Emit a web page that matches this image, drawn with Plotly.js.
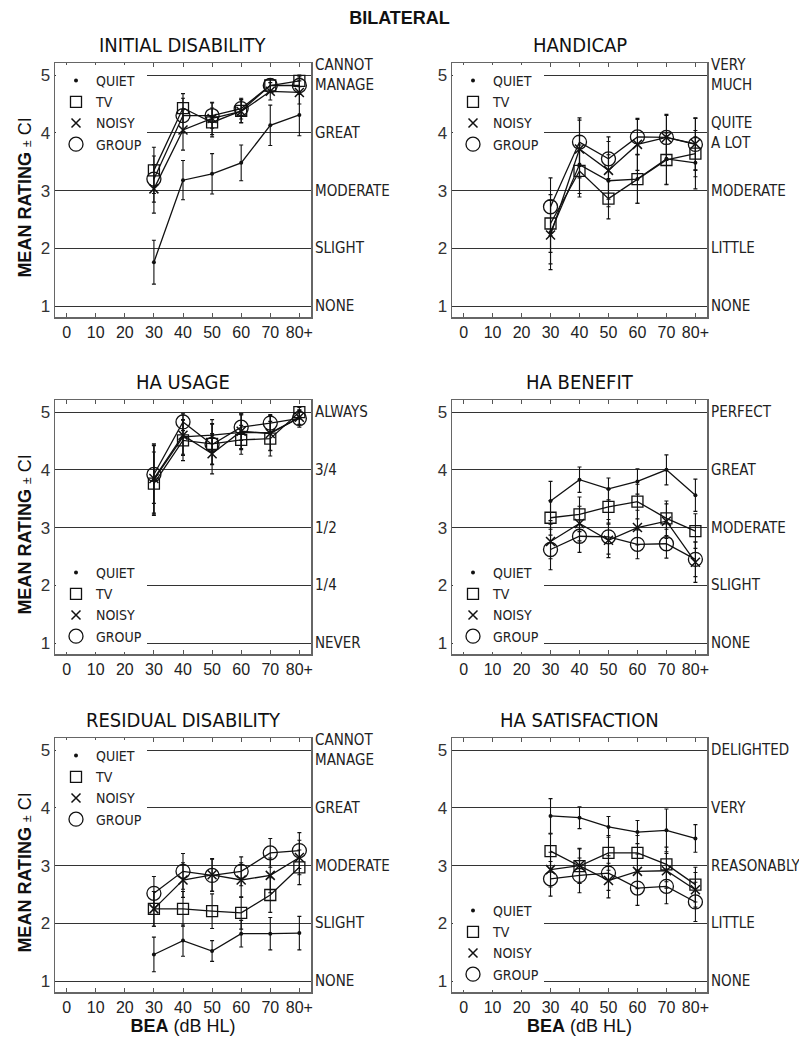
<!DOCTYPE html>
<html>
<head>
<meta charset="utf-8">
<script src="https://cdn.plot.ly/plotly-3.0.1.min.js"></script>
<style>
  body { margin: 0; background: #fff; }
  #chart { width: 799px; height: 1047px; }
</style>
</head>
<body>
<div id="chart"></div>
<script>
// BEA (dB HL) groups and axis labels
const xValues = [30, 40, 50, 60, 70, 80];
const xTickVals = [0, 10, 20, 30, 40, 50, 60, 70, 80];
const xTickText = ["0", "10", "20", "30", "40", "50", "60", "70", "80+"];
const seriesNames = ["QUIET", "TV", "NOISY", "GROUP"];
const ratingTicks = [1, 2, 3, 4, 5];

// INITIAL DISABILITY
const initialQuiet = [1.76, 3.18, 3.29, 3.48, 4.13, 4.31];
const initialQuietCI = [0.38, 0.34, 0.35, 0.31, 0.35, 0.36];
const initialTV = [3.35, 4.43, 4.18, 4.38, 4.82, 4.9];
const initialTVCI = [0.4, 0.25, 0.25, 0.2, 0.12, 0.1];
const initialNoisy = [3.03, 4.05, 4.25, 4.37, 4.72, 4.7];
const initialNoisyCI = [0.42, 0.35, 0.28, 0.2, 0.15, 0.2];
const initialGroup = [3.2, 4.3, 4.3, 4.42, 4.82, 4.82];
const initialGroupCI = [0.4, 0.3, 0.22, 0.18, 0.12, 0.15];
const initialLabels = ["NONE", "SLIGHT", "MODERATE", "GREAT", "CANNOT<br>MANAGE"];

// HANDICAP
const handicapQuiet = [2.28, 3.45, 3.17, 3.2, 3.55, 3.48];
const handicapQuietCI = [0.55, 0.5, 0.45, 0.42, 0.45, 0.45];
const handicapTV = [2.43, 3.34, 2.86, 3.2, 3.53, 3.64];
const handicapTVCI = [0.5, 0.45, 0.35, 0.42, 0.42, 0.4];
const handicapNoisy = [2.23, 3.72, 3.35, 3.8, 3.92, 3.81];
const handicapNoisyCI = [0.6, 0.5, 0.5, 0.45, 0.4, 0.45];
const handicapGroup = [2.72, 3.84, 3.55, 3.93, 3.92, 3.8];
const handicapGroupCI = [0.5, 0.42, 0.38, 0.3, 0.38, 0.45];
const handicapLabels = ["NONE", "LITTLE", "MODERATE", "QUITE<br>A LOT", "VERY<br>MUCH"];

// HA USAGE
const usageQuiet = [3.83, 4.57, 4.6, 4.65, 4.64, 4.9];
const usageQuietCI = [0.6, 0.3, 0.27, 0.3, 0.3, 0.12];
const usageTV = [3.76, 4.51, 4.45, 4.52, 4.54, 5.0];
const usageTVCI = [0.55, 0.35, 0.35, 0.25, 0.3, 0.08];
const usageNoisy = [3.85, 4.6, 4.28, 4.67, 4.63, 4.91];
const usageNoisyCI = [0.6, 0.35, 0.35, 0.3, 0.3, 0.12];
const usageGroup = [3.92, 4.83, 4.44, 4.74, 4.81, 4.89];
const usageGroupCI = [0.5, 0.15, 0.35, 0.23, 0.15, 0.15];
const usageLabels = ["NEVER", "1/4", "1/2", "3/4", "ALWAYS"];

// HA BENEFIT
const benefitQuiet = [3.46, 3.83, 3.67, 3.8, 4.0, 3.56];
const benefitQuietCI = [0.34, 0.22, 0.19, 0.22, 0.26, 0.28];
const benefitTV = [3.17, 3.23, 3.36, 3.45, 3.16, 2.94];
const benefitTVCI = [0.3, 0.3, 0.3, 0.3, 0.3, 0.3];
const benefitNoisy = [2.76, 3.07, 2.78, 3.0, 3.11, 2.4];
const benefitNoisyCI = [0.3, 0.3, 0.3, 0.3, 0.3, 0.35];
const benefitGroup = [2.62, 2.85, 2.84, 2.71, 2.72, 2.45];
const benefitGroupCI = [0.35, 0.28, 0.3, 0.25, 0.25, 0.3];
const benefitLabels = ["NONE", "SLIGHT", "MODERATE", "GREAT", "PERFECT"];

// RESIDUAL DISABILITY
const residualQuiet = [1.46, 1.7, 1.52, 1.82, 1.82, 1.83];
const residualQuietCI = [0.3, 0.27, 0.18, 0.23, 0.28, 0.29];
const residualTV = [2.25, 2.25, 2.21, 2.18, 2.49, 2.97];
const residualTVCI = [0.3, 0.3, 0.3, 0.28, 0.3, 0.3];
const residualNoisy = [2.25, 2.75, 2.84, 2.75, 2.83, 3.14];
const residualNoisyCI = [0.3, 0.3, 0.28, 0.3, 0.3, 0.3];
const residualGroup = [2.52, 2.9, 2.83, 2.9, 3.22, 3.26];
const residualGroupCI = [0.29, 0.31, 0.28, 0.25, 0.25, 0.31];
const residualLabels = ["NONE", "SLIGHT", "MODERATE", "GREAT", "CANNOT<br>MANAGE"];

// HA SATISFACTION
const satisfactionQuiet = [3.86, 3.83, 3.67, 3.58, 3.61, 3.47];
const satisfactionQuietCI = [0.3, 0.19, 0.18, 0.2, 0.37, 0.24];
const satisfactionTV = [3.25, 2.99, 3.22, 3.22, 3.02, 2.67];
const satisfactionTVCI = [0.3, 0.3, 0.3, 0.3, 0.3, 0.3];
const satisfactionNoisy = [2.93, 3.0, 2.74, 2.9, 2.91, 2.58];
const satisfactionNoisyCI = [0.3, 0.3, 0.3, 0.3, 0.3, 0.3];
const satisfactionGroup = [2.77, 2.83, 2.87, 2.61, 2.64, 2.37];
const satisfactionGroupCI = [0.3, 0.3, 0.3, 0.3, 0.3, 0.34];
const satisfactionLabels = ["NONE", "LITTLE", "REASONABLY", "VERY", "DELIGHTED"];

const FONT = '"Liberation Sans Narrow", "Arial Narrow", "DejaVu Sans Condensed", "Liberation Sans", sans-serif';
const SANS = '"Liberation Sans", Arial, sans-serif';
const INK = "#111";

const panels = [
  { title: "INITIAL DISABILITY", labels: initialLabels, legendAt: "top",
    values: [initialQuiet, initialTV, initialNoisy, initialGroup],
    ci: [initialQuietCI, initialTVCI, initialNoisyCI, initialGroupCI] },
  { title: "HANDICAP", labels: handicapLabels, legendAt: "top",
    values: [handicapQuiet, handicapTV, handicapNoisy, handicapGroup],
    ci: [handicapQuietCI, handicapTVCI, handicapNoisyCI, handicapGroupCI] },
  { title: "HA USAGE", labels: usageLabels, legendAt: "bottom",
    values: [usageQuiet, usageTV, usageNoisy, usageGroup],
    ci: [usageQuietCI, usageTVCI, usageNoisyCI, usageGroupCI] },
  { title: "HA BENEFIT", labels: benefitLabels, legendAt: "bottom",
    values: [benefitQuiet, benefitTV, benefitNoisy, benefitGroup],
    ci: [benefitQuietCI, benefitTVCI, benefitNoisyCI, benefitGroupCI] },
  { title: "RESIDUAL DISABILITY", labels: residualLabels, legendAt: "top",
    values: [residualQuiet, residualTV, residualNoisy, residualGroup],
    ci: [residualQuietCI, residualTVCI, residualNoisyCI, residualGroupCI] },
  { title: "HA SATISFACTION", labels: satisfactionLabels, legendAt: "bottom",
    values: [satisfactionQuiet, satisfactionTV, satisfactionNoisy, satisfactionGroup],
    ci: [satisfactionQuietCI, satisfactionTVCI, satisfactionNoisyCI, satisfactionGroupCI] },
];

const markerStyles = [
  { symbol: "circle", size: 4, color: INK },
  { symbol: "square-open", size: 11, color: INK, line: { color: INK, width: 1.3 } },
  { symbol: "x-thin-open", size: 9, color: INK, line: { color: INK, width: 1.5 } },
  { symbol: "circle-open", size: 14, color: INK, line: { color: INK, width: 1.3 } },
];

const W = 799, H = 1047;
const colX = [[55, 311], [452, 707]];
const rowY = [[63, 317], [400, 654], [738, 992]];

const traces = [];
const layout = {
  width: W,
  height: H,
  margin: { l: 0, r: 0, t: 0, b: 0 },
  paper_bgcolor: "#fff",
  plot_bgcolor: "#fff",
  font: { family: FONT, color: "#222" },
  showlegend: true,
  title: {
    text: "<b>BILATERAL</b>",
    font: { family: SANS, size: 18, color: INK },
    x: 0.5, xanchor: "center",
    y: 1 - 18 / H, yanchor: "middle", yref: "container",
  },
  annotations: [],
};

panels.forEach((p, i) => {
  const n = i + 1;
  const col = i % 2, row = Math.floor(i / 2);
  const xs = n === 1 ? "x" : "x" + n;
  const ys = n === 1 ? "y" : "y" + n;
  const legendId = n === 1 ? "legend" : "legend" + n;
  const xd = [colX[col][0] / W, colX[col][1] / W];
  const yd = [1 - rowY[row][1] / H, 1 - rowY[row][0] / H];

  // connecting lines with CI bars
  p.values.forEach((vals, s) => {
    traces.push({
      x: xValues, y: vals, xaxis: xs, yaxis: ys,
      type: "scatter", mode: "lines",
      line: { color: INK, width: 1.3 },
      error_y: { type: "data", array: p.ci[s], visible: true, color: INK, thickness: 1.1, width: 2 },
      showlegend: false, hoverinfo: "skip",
    });
  });
  // symbols (these carry the legend)
  p.values.forEach((vals, s) => {
    traces.push({
      x: xValues, y: vals, xaxis: xs, yaxis: ys,
      type: "scatter", mode: "markers",
      name: seriesNames[s],
      marker: markerStyles[s],
      legend: legendId,
    });
  });

  layout["xaxis" + (n === 1 ? "" : n)] = {
    domain: xd, anchor: ys, range: [-4, 84],
    tickvals: xTickVals, ticktext: xTickText,
    ticks: "inside", ticklen: 4, tickcolor: "#555", tickwidth: 1,
    showline: true, mirror: "ticks", linecolor: "#666", linewidth: 1.5,
    showgrid: false, zeroline: false, fixedrange: true,
    tickfont: { family: SANS, size: 16, color: "#222" },
    title: row === 2
      ? { text: "<b>BEA</b> (dB HL)", font: { family: SANS, size: 18, color: INK }, standoff: 4 }
      : { text: "" },
  };
  layout["yaxis" + (n === 1 ? "" : n)] = {
    domain: yd, anchor: xs, range: [0.81, 5.21],
    tickvals: ratingTicks, ticks: "",
    showgrid: true, gridcolor: "#333", gridwidth: 1,
    showline: true, mirror: true, linecolor: "#666", linewidth: 1.5,
    zeroline: false, fixedrange: true,
    tickfont: { family: SANS, size: 17, color: "#333" },
  };

  // right-hand verbal scale
  p.labels.forEach((lab, k) => {
    layout.annotations.push({
      text: lab, xref: xs + " domain", yref: ys,
      x: 1, y: ratingTicks[k], xanchor: "left", yanchor: "middle", xshift: 2,
      align: "left", showarrow: false,
      font: { family: FONT, size: 15, color: "#222" },
    });
  });

  if (col === 0) {
    layout.annotations.push({
      text: "<b>MEAN RATING</b> <span style='font-size:12px'>±</span> CI",
      xref: "paper", yref: ys + " domain", x: 25 / W, y: 0.47,
      xanchor: "center", yanchor: "middle", textangle: -90, showarrow: false,
      font: { family: SANS, size: 18, color: INK },
    });
  }

  const top = p.legendAt === "top";
  layout[legendId] = {
    x: (colX[col][0] + 1) / W, xanchor: "left",
    y: top ? 1 - (rowY[row][0] + 2) / H : 1 - (rowY[row][1] - 2) / H,
    yanchor: top ? "top" : "bottom",
    bgcolor: "#fff", borderwidth: 0,
    font: { family: FONT, size: 14, color: "#222" },
    itemwidth: 30, tracegroupgap: 0,
  };

  layout.annotations.push({
    text: p.title, xref: xs + " domain", yref: ys + " domain",
    x: 0.5, y: 1, xanchor: "center", yanchor: "bottom", yshift: 4,
    showarrow: false, font: { family: FONT, size: 20, color: INK },
  });
});

Plotly.newPlot("chart", traces, layout, { staticPlot: true });
</script>
</body>
</html>
